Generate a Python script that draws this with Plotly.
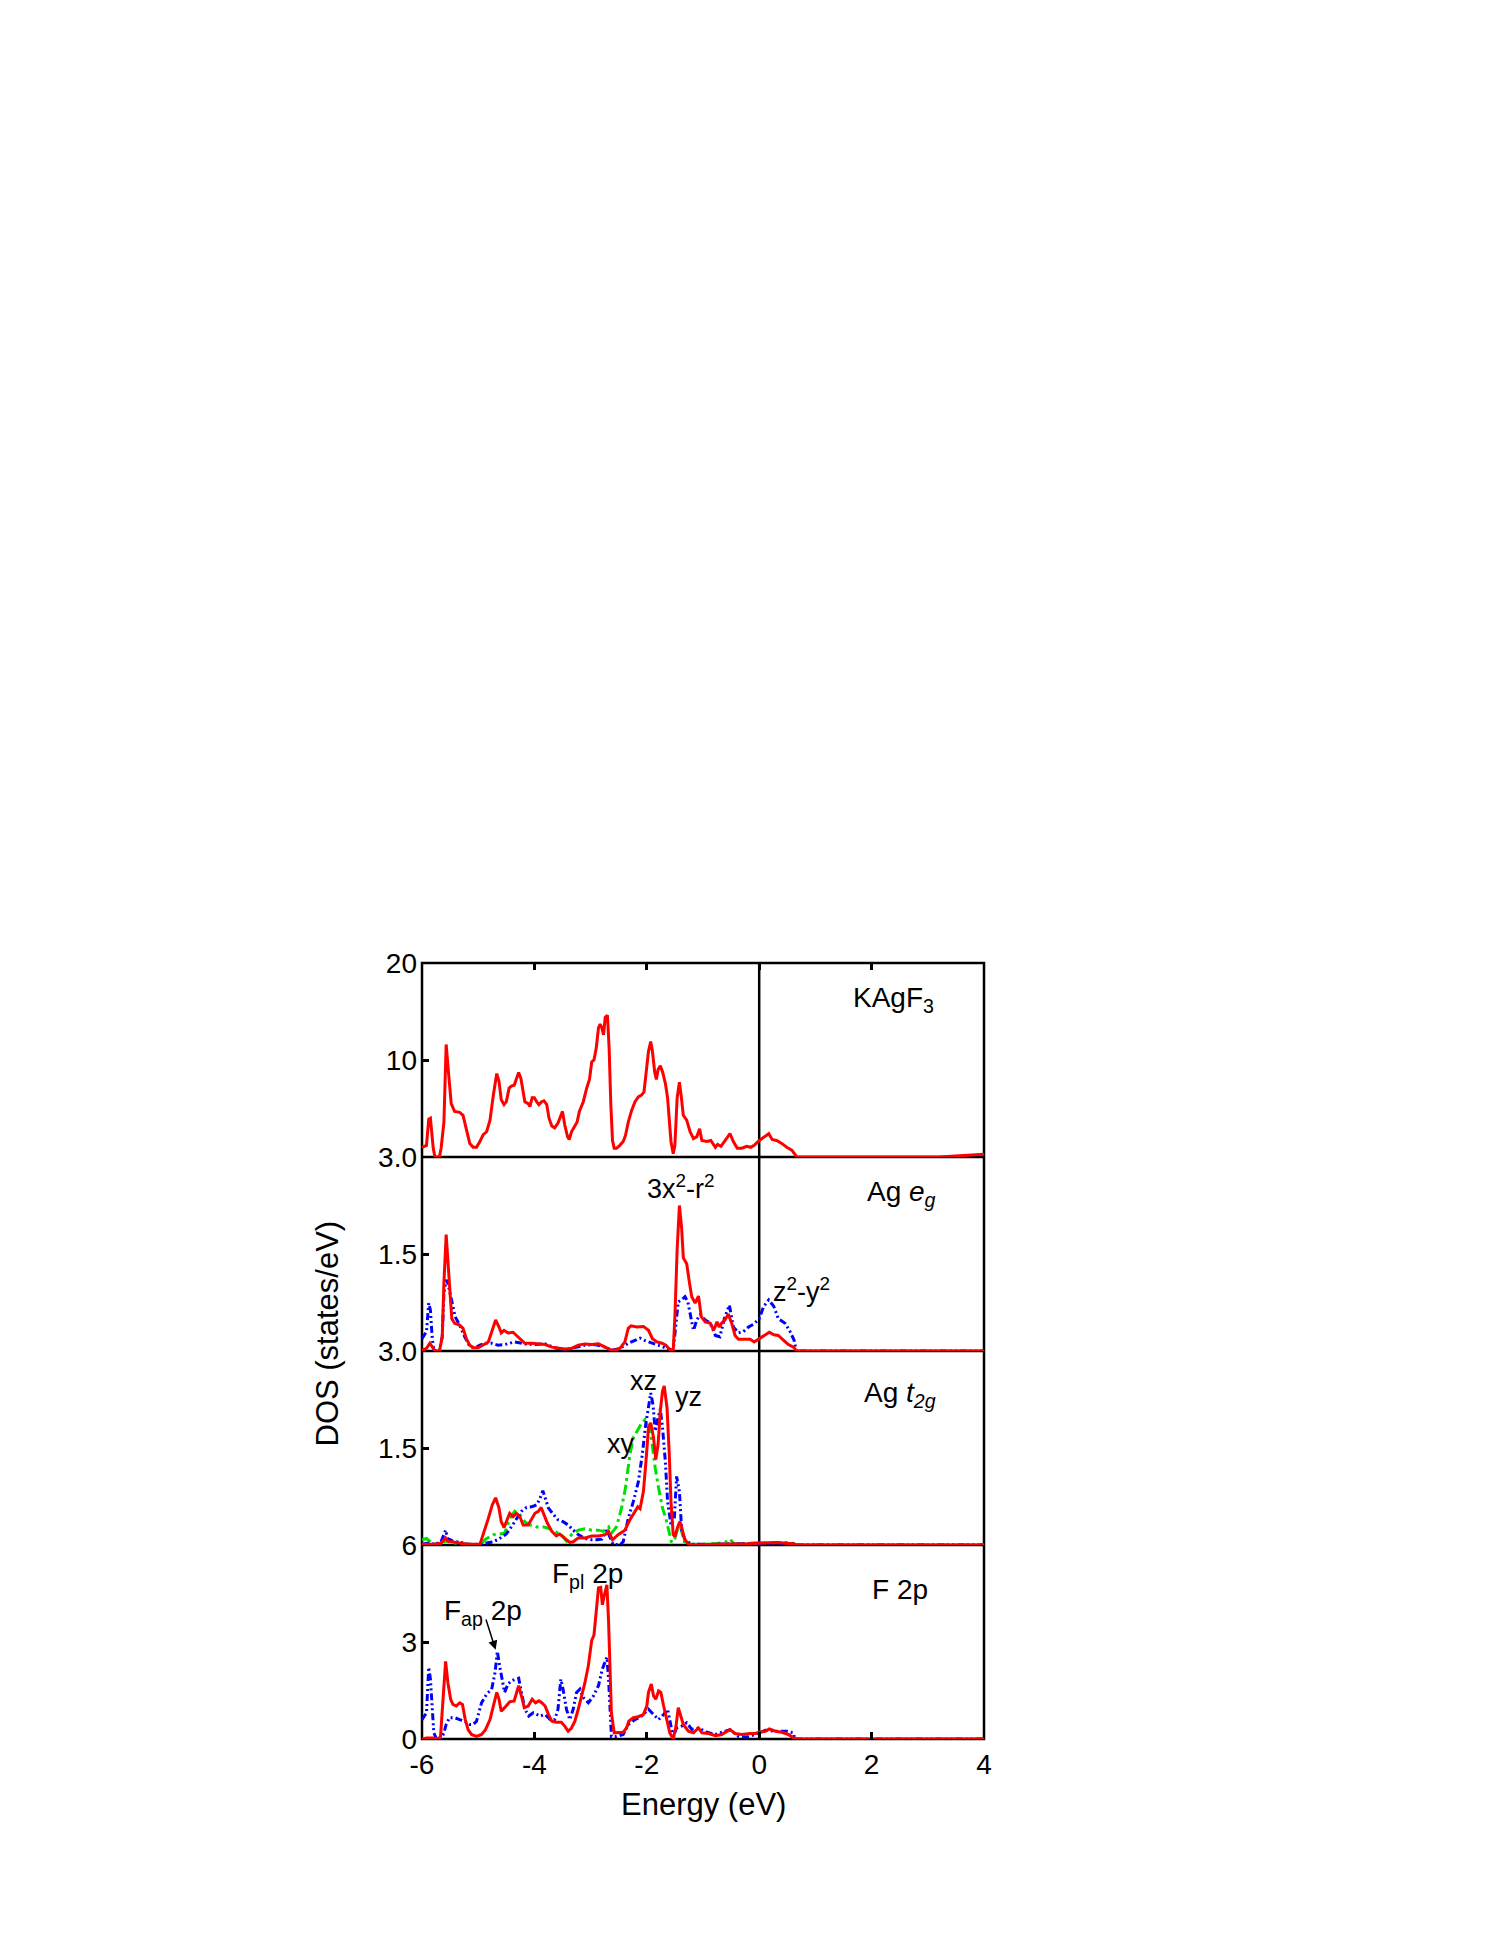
import plotly.graph_objects as go

FONT = "Arial, Liberation Sans, Helvetica, sans-serif"
RED = "#ff0000"
BLUE = "#0000ff"
GREEN = "#00e000"

# ---------------- Panel 1: KAgF3 total DOS ----------------
tot_e = [-6.00, -5.92, -5.88, -5.85, -5.80, -5.77, -5.69, -5.66, -5.61, -5.57, -5.54, -5.51, -5.48, -5.42,
         -5.33, -5.27, -5.21, -5.15, -5.09, -5.03, -4.97, -4.91, -4.85, -4.79, -4.73, -4.67, -4.63, -4.59,
         -4.54, -4.50, -4.45, -4.41, -4.36, -4.32, -4.28, -4.24, -4.20, -4.17, -4.11, -4.08, -4.04, -4.00,
         -3.96, -3.92, -3.87, -3.83, -3.78, -3.74, -3.69, -3.64, -3.58, -3.53, -3.50, -3.46, -3.41, -3.38,
         -3.34, -3.28, -3.24, -3.20, -3.13, -3.07, -3.02, -2.98, -2.94, -2.90, -2.86, -2.83, -2.80, -2.77,
         -2.74, -2.70, -2.67, -2.64, -2.61, -2.58, -2.54, -2.48, -2.42, -2.38, -2.33, -2.27, -2.21, -2.15,
         -2.09, -2.05, -2.00, -1.97, -1.93, -1.90, -1.86, -1.83, -1.80, -1.76, -1.72, -1.67, -1.63, -1.60,
         -1.57, -1.53, -1.50, -1.46, -1.42, -1.39, -1.35, -1.29, -1.23, -1.17, -1.11, -1.06, -1.02, -0.93,
         -0.86, -0.78, -0.74, -0.68, -0.61, -0.52, -0.46, -0.39, -0.31, -0.22, -0.15, -0.09, 0.00, 0.11,
         0.17, 0.23, 0.31, 0.40, 0.49, 0.58, 0.67, 3.20, 4.00]
tot_dos = [1.0, 1.2, 3.9, 4.0, 0.9, 0.0, 0.0, 0.9, 3.6, 11.6, 9.5, 7.1, 5.5, 4.7,
           4.6, 4.3, 2.9, 1.4, 1.0, 1.0, 1.6, 2.3, 2.6, 3.8, 6.4, 8.6, 7.8, 5.9,
           5.4, 5.7, 7.1, 7.3, 7.4, 8.0, 8.7, 8.1, 6.9, 5.7, 5.5, 5.2, 6.1, 6.1,
           5.7, 5.4, 5.7, 5.8, 5.4, 4.0, 3.2, 3.0, 3.5, 4.2, 4.7, 3.3, 2.1, 1.8,
           2.6, 3.2, 3.6, 4.7, 5.7, 7.1, 8.0, 9.8, 10.0, 11.2, 13.3, 13.7, 13.3, 12.6,
           14.4, 14.6, 11.2, 5.4, 1.7, 0.9, 0.9, 1.2, 1.6, 2.2, 3.6, 4.8, 5.7, 6.2,
           6.4, 6.7, 9.0, 10.9, 11.9, 10.9, 8.8, 8.0, 9.0, 9.4, 8.8, 7.6, 6.1, 4.0,
           1.6, 0.35, 1.2, 6.1, 7.7, 6.4, 4.3, 3.8, 2.6, 1.9, 2.1, 2.9, 1.7, 1.6,
           1.7, 1.0, 1.3, 1.1, 1.7, 2.4, 1.6, 0.9, 0.9, 1.1, 1.0, 1.2, 1.7, 2.1,
           2.4, 1.8, 1.7, 1.4, 1.0, 0.7, 0.0, 0.0, 0.28]

# ---------------- Panel 2: Ag e_g ----------------
x2r2_e = [-6.00, -5.92, -5.86, -5.82, -5.77, -5.69, -5.64, -5.61, -5.57, -5.54, -5.50, -5.47, -5.42, -5.33,
          -5.27, -5.21, -5.15, -5.09, -5.00, -4.91, -4.82, -4.75, -4.69, -4.63, -4.59, -4.54, -4.47, -4.38,
          -4.29, -4.17, -4.05, -3.93, -3.81, -3.69, -3.58, -3.46, -3.34, -3.22, -3.10, -2.98, -2.86, -2.74,
          -2.65, -2.57, -2.48, -2.39, -2.33, -2.28, -2.18, -2.06, -1.97, -1.90, -1.82, -1.73, -1.66, -1.59,
          -1.53, -1.50, -1.46, -1.42, -1.38, -1.35, -1.29, -1.24, -1.20, -1.14, -1.08, -1.03, -0.96, -0.87,
          -0.81, -0.75, -0.71, -0.67, -0.61, -0.55, -0.49, -0.43, -0.37, -0.28, -0.16, -0.09, 0.00, 0.11,
          0.18, 0.26, 0.34, 0.43, 0.52, 0.61, 0.67, 4.00]
x2r2_dos = [0.01, 0.04, 0.12, 0.06, 0.0, 0.0, 0.22, 1.05, 1.80, 1.41, 0.79, 0.50, 0.43, 0.40,
            0.35, 0.19, 0.09, 0.05, 0.05, 0.09, 0.14, 0.32, 0.48, 0.37, 0.28, 0.32, 0.28, 0.29,
            0.22, 0.12, 0.12, 0.11, 0.10, 0.06, 0.05, 0.03, 0.04, 0.09, 0.11, 0.10, 0.11, 0.06,
            0.02, 0.01, 0.04, 0.14, 0.35, 0.39, 0.37, 0.38, 0.32, 0.19, 0.14, 0.12, 0.09, 0.02,
            0.01, 0.53, 1.57, 2.25, 1.90, 1.44, 1.35, 1.05, 0.84, 0.74, 0.85, 0.53, 0.45, 0.43,
            0.32, 0.45, 0.37, 0.43, 0.48, 0.57, 0.43, 0.24, 0.18, 0.18, 0.18, 0.14, 0.19, 0.24,
            0.29, 0.25, 0.24, 0.17, 0.10, 0.06, 0.0, 0.0]

z2y2_e = [-6.00, -5.92, -5.88, -5.85, -5.82, -5.79, -5.69, -5.64, -5.61, -5.57, -5.54, -5.49, -5.45, -5.41,
          -5.33, -5.24, -5.15, -5.06, -4.97, -4.88, -4.76, -4.65, -4.53, -4.35, -4.17, -3.99, -3.81, -3.64,
          -3.46, -3.28, -3.10, -2.92, -2.74, -2.63, -2.48, -2.33, -2.21, -2.12, -2.03, -1.91, -1.79, -1.64,
          -1.53, -1.48, -1.44, -1.38, -1.32, -1.27, -1.23, -1.17, -1.11, -1.05, -0.96, -0.87, -0.78, -0.70,
          -0.61, -0.53, -0.46, -0.37, -0.28, -0.19, -0.09, 0.00, 0.08, 0.17, 0.26, 0.34, 0.46, 0.55,
          0.62, 0.66, 4.00]
z2y2_dos = [0.19, 0.30, 0.74, 0.63, 0.22, 0.01, 0.0, 0.22, 0.89, 1.10, 1.05, 0.84, 0.69, 0.53,
            0.40, 0.22, 0.07, 0.05, 0.09, 0.12, 0.12, 0.09, 0.10, 0.14, 0.11, 0.10, 0.11, 0.05,
            0.02, 0.06, 0.09, 0.10, 0.06, 0.01, 0.04, 0.12, 0.17, 0.20, 0.16, 0.12, 0.09, 0.04,
            0.01, 0.43, 0.76, 0.79, 0.84, 0.76, 0.58, 0.32, 0.48, 0.56, 0.48, 0.43, 0.24, 0.22,
            0.53, 0.71, 0.37, 0.28, 0.30, 0.37, 0.42, 0.50, 0.69, 0.79, 0.69, 0.50, 0.43, 0.30,
            0.17, 0.0, 0.0]

# ---------------- Panel 3: Ag t_2g ----------------
yz_e = [-6.00, -5.88, -5.77, -5.66, -5.58, -5.54, -5.42, -5.30, -5.18, -4.97, -4.91, -4.82, -4.75, -4.69,
        -4.63, -4.59, -4.54, -4.48, -4.44, -4.38, -4.32, -4.26, -4.20, -4.11, -4.05, -3.99, -3.93, -3.88,
        -3.83, -3.77, -3.69, -3.61, -3.55, -3.49, -3.43, -3.37, -3.31, -3.22, -3.10, -2.98, -2.86, -2.74,
        -2.68, -2.61, -2.51, -2.39, -2.30, -2.21, -2.16, -2.12, -2.06, -2.02, -1.97, -1.93, -1.88, -1.84,
        -1.80, -1.76, -1.72, -1.69, -1.64, -1.60, -1.57, -1.53, -1.50, -1.45, -1.41, -1.38, -1.33, -1.26,
        -1.14, -0.78, -0.50, -0.20, 0.00, 0.30, 0.60, 0.67, 4.00]
yz_dos = [0.01, 0.01, 0.01, 0.03, 0.11, 0.06, 0.04, 0.03, 0.01, 0.01, 0.16, 0.41, 0.62, 0.73,
          0.57, 0.36, 0.27, 0.41, 0.49, 0.44, 0.49, 0.44, 0.31, 0.31, 0.41, 0.49, 0.52, 0.58,
          0.47, 0.34, 0.21, 0.14, 0.17, 0.13, 0.09, 0.04, 0.05, 0.11, 0.11, 0.14, 0.14, 0.16,
          0.21, 0.08, 0.16, 0.23, 0.39, 0.52, 0.59, 0.56, 0.83, 1.24, 1.81, 1.89, 1.66, 1.32,
          1.55, 2.07, 2.38, 2.46, 2.12, 1.40, 0.67, 0.16, 0.13, 0.28, 0.36, 0.28, 0.10, 0.01,
          0.0, 0.01, 0.01, 0.02, 0.03, 0.04, 0.02, 0.0, 0.0]

xz_e = [-6.00, -5.88, -5.77, -5.66, -5.58, -5.54, -5.45, -5.30, -5.18, -4.97, -4.85, -4.73, -4.62, -4.50,
        -4.41, -4.32, -4.23, -4.14, -4.05, -3.96, -3.90, -3.85, -3.81, -3.75, -3.66, -3.58, -3.49, -3.40,
        -3.31, -3.22, -3.10, -2.98, -2.89, -2.80, -2.71, -2.65, -2.60, -2.48, -2.42, -2.33, -2.24, -2.15,
        -2.08, -2.02, -1.97, -1.93, -1.89, -1.85, -1.80, -1.76, -1.72, -1.67, -1.63, -1.57, -1.51, -1.47,
        -1.42, -1.38, -1.32, -1.20, -0.78, -0.50, 0.00, 0.30, 0.60, 0.67, 4.00]
xz_dos = [0.01, 0.03, 0.01, 0.05, 0.23, 0.10, 0.06, 0.04, 0.01, 0.0, 0.03, 0.05, 0.10, 0.17,
          0.28, 0.41, 0.52, 0.58, 0.59, 0.62, 0.72, 0.84, 0.72, 0.57, 0.47, 0.39, 0.36, 0.31,
          0.23, 0.16, 0.10, 0.08, 0.08, 0.09, 0.23, 0.10, 0.01, 0.0, 0.05, 0.41, 0.67, 0.98,
          1.40, 1.86, 2.17, 2.35, 2.17, 1.76, 1.97, 2.10, 1.81, 1.29, 0.67, 0.31, 0.41, 1.06,
          0.83, 0.23, 0.08, 0.01, 0.01, 0.02, 0.02, 0.03, 0.02, 0.0, 0.0]

xy_e = [-6.00, -5.92, -5.80, -5.66, -5.57, -5.42, -5.24, -4.97, -4.85, -4.73, -4.62, -4.53, -4.44, -4.35,
        -4.26, -4.17, -4.08, -3.96, -3.84, -3.75, -3.64, -3.52, -3.43, -3.34, -3.22, -3.10, -2.98, -2.86,
        -2.77, -2.68, -2.63, -2.54, -2.45, -2.38, -2.30, -2.24, -2.16, -2.09, -2.03, -1.99, -1.94, -1.90,
        -1.85, -1.79, -1.72, -1.66, -1.60, -1.56, -1.50, -1.42, -1.38, -1.33, -1.20, -0.78, -0.61, -0.52,
        -0.45, -0.20, 0.00, 0.30, 0.55, 0.67, 4.00]
xy_dos = [0.08, 0.10, 0.01, 0.04, 0.06, 0.03, 0.01, 0.01, 0.10, 0.16, 0.17, 0.18, 0.41, 0.52,
          0.47, 0.36, 0.31, 0.28, 0.28, 0.26, 0.21, 0.16, 0.06, 0.16, 0.23, 0.25, 0.23, 0.23,
          0.21, 0.28, 0.18, 0.28, 0.57, 0.88, 1.40, 1.66, 1.78, 1.89, 1.94, 1.86, 1.76, 1.53,
          1.19, 0.88, 0.57, 0.41, 0.21, 0.04, 0.10, 0.34, 0.21, 0.05, 0.01, 0.02, 0.04, 0.09,
          0.02, 0.02, 0.03, 0.04, 0.04, 0.0, 0.0]

# ---------------- Panel 4: F 2p ----------------
fpl_e = [-6.00, -5.92, -5.80, -5.71, -5.67, -5.63, -5.58, -5.54, -5.49, -5.45, -5.39, -5.33, -5.28, -5.23,
         -5.18, -5.12, -5.03, -4.94, -4.87, -4.79, -4.73, -4.67, -4.63, -4.59, -4.53, -4.44, -4.36, -4.32,
         -4.28, -4.23, -4.18, -4.11, -4.04, -3.98, -3.92, -3.87, -3.81, -3.75, -3.69, -3.61, -3.52, -3.46,
         -3.40, -3.34, -3.28, -3.22, -3.16, -3.10, -3.04, -2.98, -2.94, -2.90, -2.86, -2.82, -2.79, -2.76,
         -2.71, -2.68, -2.65, -2.63, -2.58, -2.51, -2.42, -2.36, -2.32, -2.24, -2.15, -2.06, -2.00, -1.97,
         -1.92, -1.88, -1.84, -1.79, -1.75, -1.70, -1.64, -1.59, -1.53, -1.48, -1.44, -1.41, -1.35, -1.26,
         -1.17, -1.08, -1.02, -0.90, -0.78, -0.67, -0.52, -0.43, -0.31, -0.16, -0.07, 0.00, 0.11, 0.18,
         0.29, 0.40, 0.52, 0.61, 0.67, 4.00]
fpl_dos = [0.0, 0.03, 0.03, 0.0, 0.08, 1.02, 2.40, 1.75, 1.23, 1.07, 1.02, 1.12, 1.07, 0.60,
           0.29, 0.14, 0.08, 0.14, 0.29, 0.60, 1.02, 1.44, 1.23, 0.86, 0.97, 1.15, 1.18, 1.39,
           1.65, 1.33, 0.97, 1.02, 1.23, 1.12, 1.18, 1.12, 1.02, 0.76, 0.55, 0.52, 0.52, 0.40,
           0.24, 0.34, 0.55, 0.92, 1.33, 1.75, 2.27, 3.05, 3.21, 4.04, 4.67, 4.69, 4.15, 4.41,
           4.77, 3.63, 2.06, 0.81, 0.19, 0.19, 0.21, 0.34, 0.55, 0.66, 0.69, 0.76, 1.02, 1.44,
           1.70, 1.33, 1.23, 1.49, 1.44, 1.02, 0.55, 0.19, 0.0, 0.40, 0.97, 0.81, 0.45, 0.24,
           0.19, 0.34, 0.19, 0.17, 0.10, 0.14, 0.29, 0.17, 0.14, 0.17, 0.17, 0.21, 0.24, 0.31,
           0.24, 0.21, 0.14, 0.03, 0.0, 0.0]

fap_e = [-6.00, -5.92, -5.88, -5.85, -5.82, -5.79, -5.74, -5.66, -5.61, -5.57, -5.51, -5.42, -5.33, -5.24,
         -5.15, -5.09, -5.03, -4.94, -4.85, -4.76, -4.70, -4.66, -4.62, -4.57, -4.53, -4.47, -4.41, -4.34,
         -4.28, -4.23, -4.17, -4.10, -4.02, -3.96, -3.90, -3.81, -3.72, -3.64, -3.58, -3.53, -3.49, -3.43,
         -3.37, -3.31, -3.25, -3.19, -3.13, -3.04, -2.95, -2.86, -2.79, -2.71, -2.68, -2.65, -2.63, -2.54,
         -2.42, -2.33, -2.21, -2.09, -1.97, -1.88, -1.79, -1.70, -1.63, -1.57, -1.53, -1.47, -1.38, -1.29,
         -1.20, -1.08, -0.93, -0.78, -0.52, -0.37, -0.22, -0.07, 0.00, 0.11, 0.26, 0.49, 0.61, 0.63, 4.00]
fap_dos = [0.60, 0.81, 2.22, 1.85, 1.02, 0.19, 0.0, 0.0, 0.19, 0.45, 0.66, 0.66, 0.60, 0.55,
           0.45, 0.45, 0.55, 1.12, 1.39, 1.54, 2.06, 2.71, 2.27, 1.75, 1.44, 1.70, 1.80, 1.85,
           1.88, 1.44, 0.92, 0.71, 0.81, 0.76, 0.71, 0.76, 0.60, 0.60, 0.92, 1.85, 1.54, 0.92,
           0.60, 0.92, 1.44, 1.54, 1.28, 1.12, 1.33, 1.65, 2.17, 2.53, 1.85, 0.81, 0.08, 0.08,
           0.14, 0.45, 0.60, 0.71, 0.92, 0.76, 0.60, 0.76, 0.92, 0.40, 0.08, 0.34, 0.40, 0.50,
           0.30, 0.34, 0.21, 0.14, 0.29, 0.08, 0.06, 0.14, 0.19, 0.27, 0.24, 0.24, 0.19, 0.0, 0.0]

# ---------------- Axis ticks ----------------
x_ticks = [-6, -4, -2, 0, 2, 4]
x_text = ["-6", "-4", "-2", "0", "2", "4"]
y1_ticks, y1_text = [10, 20], ["10", "20"]
y2_ticks, y2_text = [1.5, 3.0], ["1.5", "3.0"]
y3_ticks, y3_text = [1.5, 3.0], ["1.5", "3.0"]
y4_ticks, y4_text = [0, 3, 6], ["0", "3", "6"]

DASHDOTDOT = "7px,3px,2px,3px,2px,3px"
DASHDOT = "10px,4px,3px,4px"

fig = go.Figure()


def add(x, y, color, dash, xa, ya):
    fig.add_trace(go.Scatter(x=x, y=y, mode="lines", xaxis=xa, yaxis=ya,
                             line=dict(color=color, width=3, dash=dash), showlegend=False,
                             hoverinfo="skip"))


add(tot_e, tot_dos, RED, "solid", "x", "y")
add(z2y2_e, z2y2_dos, BLUE, DASHDOTDOT, "x2", "y2")
add(x2r2_e, x2r2_dos, RED, "solid", "x2", "y2")
add(xy_e, xy_dos, GREEN, DASHDOT, "x3", "y3")
add(xz_e, xz_dos, BLUE, DASHDOTDOT, "x3", "y3")
add(yz_e, yz_dos, RED, "solid", "x3", "y3")
add(fap_e, fap_dos, BLUE, DASHDOTDOT, "x4", "y4")
add(fpl_e, fpl_dos, RED, "solid", "x4", "y4")

tickfont = dict(family=FONT, size=28, color="black")
xbase = dict(range=[-6, 4], domain=[0, 1], showline=False, showgrid=False, zeroline=False,
             tickvals=x_ticks, ticktext=x_text, ticklen=7, tickwidth=2.5, tickcolor="black",
             tickfont=tickfont, ticklabelstandoff=6)
ybase = dict(showline=False, showgrid=False, zeroline=False, ticks="inside", ticklen=7,
             tickwidth=2.5, tickcolor="black", tickfont=tickfont, ticklabelstandoff=4)

# page body has an 8px default margin: figure sized so the plot area lands at
# x 422..984, y 963..1739 of the window
fig.update_layout(
    xaxis=dict(xbase, anchor="y", side="top", ticks="inside", showticklabels=False),
    xaxis2=dict(xbase, anchor="y2", ticks="", showticklabels=False),
    xaxis3=dict(xbase, anchor="y3", ticks="", showticklabels=False),
    xaxis4=dict(xbase, anchor="y4", ticks="inside", showticklabels=True),
    yaxis=dict(ybase, domain=[0.75, 1.0], anchor="x", range=[0, 20], tickvals=y1_ticks, ticktext=y1_text),
    yaxis2=dict(ybase, domain=[0.5, 0.75], anchor="x2", range=[0, 3], tickvals=y2_ticks, ticktext=y2_text),
    yaxis3=dict(ybase, domain=[0.25, 0.5], anchor="x3", range=[0, 3], tickvals=y3_ticks, ticktext=y3_text),
    yaxis4=dict(ybase, domain=[0.0, 0.25], anchor="x4", range=[0, 6], tickvals=y4_ticks, ticktext=y4_text),
    width=1479, height=1918,
    margin=dict(l=414, r=503, t=955, b=187, pad=0),
    paper_bgcolor="white", plot_bgcolor="white",
    font=dict(family=FONT, color="black"),
)

# frame and panel separators (single-width lines, drawn beneath the curves)
frame = dict(color="black", width=2.5)
fig.add_shape(type="rect", xref="paper", yref="paper", x0=0, x1=1, y0=0, y1=1,
              line=frame, layer="below")
for yb in [0.25, 0.5, 0.75]:
    fig.add_shape(type="line", xref="paper", yref="paper", x0=0, x1=1, y0=yb, y1=yb,
                  line=frame, layer="below")
# vertical line at the Fermi level through all panels
fig.add_shape(type="line", xref="x", yref="paper", x0=0, x1=0, y0=0, y1=1,
              line=dict(color="black", width=2.5), layer="below")

lab = dict(family=FONT, size=28, color="black")
lab2 = dict(family=FONT, size=27, color="black")
ann = [
    dict(x=2.39, y=16.2, xref="x", yref="y", text="KAgF<sub>3</sub>", font=lab),
    dict(x=2.53, y=2.43, xref="x2", yref="y2", text="Ag <i>e</i><sub><i>g</i></sub>", font=lab),
    dict(x=2.51, y=2.32, xref="x3", yref="y3", text="Ag <i>t</i><sub><i>2g</i></sub>", font=lab),
    dict(x=2.51, y=4.61, xref="x4", yref="y4", text="F 2p", font=lab),
    dict(x=-1.39, y=2.54, xref="x2", yref="y2", text="3x<sup>2</sup>-r<sup>2</sup>", font=lab2),
    dict(x=0.75, y=0.94, xref="x2", yref="y2", text="z<sup>2</sup>-y<sup>2</sup>", font=lab2),
    dict(x=-2.05, y=2.53, xref="x3", yref="y3", text="xz", font=lab2),
    dict(x=-1.26, y=2.29, xref="x3", yref="y3", text="yz", font=lab2),
    dict(x=-2.46, y=1.56, xref="x3", yref="y3", text="xy", font=lab2),
    dict(x=-3.05, y=5.07, xref="x4", yref="y4", text="F<sub>pl</sub> 2p", font=lab),
    dict(x=-4.92, y=3.90, xref="x4", yref="y4", text="F<sub>ap</sub> 2p", font=lab),
]
for a in ann:
    fig.add_annotation(showarrow=False, xanchor="center", yanchor="middle", **a)

# arrow pointing at the F_ap peak
fig.add_annotation(x=-4.69, y=2.76, xref="x4", yref="y4", ax=-4.87, ay=3.74,
                   axref="x4", ayref="y4", text="", showarrow=True, arrowhead=2,
                   arrowsize=1.2, arrowwidth=1.5, arrowcolor="black")

# axis titles
fig.add_annotation(x=0.5, y=-0.085, xref="paper", yref="paper", text="Energy (eV)",
                   showarrow=False, xanchor="center", yanchor="middle",
                   font=dict(family=FONT, size=31, color="black"))
fig.add_annotation(x=-0.168, y=0.522, xref="paper", yref="paper", text="DOS (states/eV)",
                   showarrow=False, xanchor="center", yanchor="middle", textangle=-90,
                   font=dict(family=FONT, size=31, color="black"))

fig.write_html("out.html")
